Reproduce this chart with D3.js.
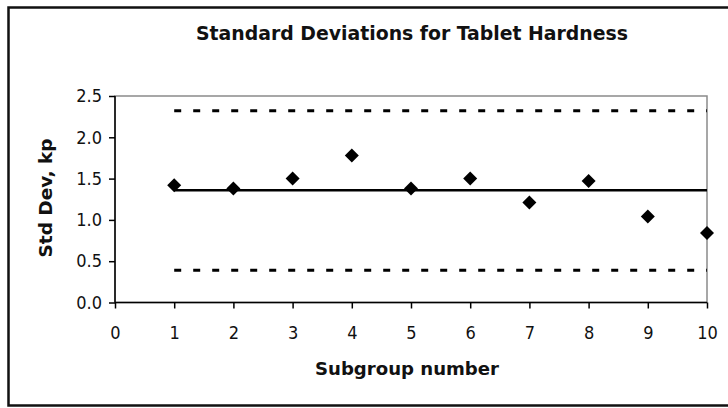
<!DOCTYPE html>
<html>
<head>
<meta charset="utf-8">
<script src="https://cdn.jsdelivr.net/npm/d3@7"></script>
<style>
  body { margin: 0; background: #fff; }
  svg { display: block; font-family: "DejaVu Sans Condensed", "DejaVu Sans", sans-serif; }
</style>
</head>
<body>
<svg width="728" height="408"></svg>
<script>
const TITLE = "Standard Deviations for Tablet Hardness",
  X_LABEL = "Subgroup number",
  Y_LABEL = "Std Dev, kp";

// data
const subgroups = [1, 2, 3, 4, 5, 6, 7, 8, 9, 10];
const stdDevs = [1.42, 1.38, 1.5, 1.78, 1.38, 1.5, 1.21, 1.47, 1.04, 0.84];
const centerLine = 1.36,
  upperLimit = 2.32,
  lowerLimit = 0.39;
const xTicks = [0, 1, 2, 3, 4, 5, 6, 7, 8, 9, 10];
const yTicks = [0, 0.5, 1, 1.5, 2, 2.5];

const margin = { top: 96, right: 21, bottom: 105.5, left: 115 },
  W = 728,
  H = 408,
  width = W - margin.left - margin.right,
  height = H - margin.top - margin.bottom;

var svg = d3.select("svg");

// outer frame (right side runs off the picture)
svg.append("rect")
  .attr("x", 8.5).attr("y", 7.5)
  .attr("width", 730).attr("height", 398)
  .attr("fill", "none")
  .attr("stroke", "#111")
  .attr("stroke-width", 2.5);

var chart = svg.append("g")
  .attr("transform", "translate(" + margin.left + "," + margin.top + ")");

var x = d3.scaleLinear().domain([0, 10]).range([0, width]);
var y = d3.scaleLinear().domain([0, 2.5]).range([height, 0]);

// plot area border
chart.append("rect")
  .attr("x", 0).attr("y", 0)
  .attr("width", width).attr("height", height)
  .attr("fill", "none")
  .attr("stroke", "#8a8a8a")
  .attr("stroke-width", 1.5);

// control limits
[upperLimit, lowerLimit].forEach(v => {
  chart.append("line")
    .attr("x1", x(subgroups[0])).attr("x2", x(subgroups[subgroups.length - 1]))
    .attr("y1", y(v)).attr("y2", y(v))
    .attr("stroke", "#000")
    .attr("stroke-width", 3)
    .attr("stroke-dasharray", "7,12");
});

chart.append("line")
  .attr("x1", x(subgroups[0])).attr("x2", x(subgroups[subgroups.length - 1]))
  .attr("y1", y(centerLine)).attr("y2", y(centerLine))
  .attr("stroke", "#000")
  .attr("stroke-width", 2.5);

// axes
var xAxis = d3.axisBottom(x).tickValues(xTicks).tickSize(6).tickFormat(d3.format("d"));
var yAxis = d3.axisLeft(y).tickValues(yTicks).tickSize(6).tickFormat(d3.format(".1f"));

var gx = chart.append("g")
  .attr("transform", "translate(0," + height + ")")
  .call(xAxis);
gx.select(".domain").attr("stroke", "#000").attr("stroke-width", 1.5).attr("d", "M0,0H" + width);
gx.selectAll(".tick line").attr("stroke", "#000").attr("stroke-width", 1.5);
gx.selectAll(".tick text")
  .attr("y", 24)
  .attr("dy", "0.71em")
  .attr("font-size", 18)
  .attr("font-family", "DejaVu Sans Condensed, DejaVu Sans, sans-serif")
  .attr("fill", "#111");

var gy = chart.append("g").call(yAxis);
gy.select(".domain").attr("stroke", "#000").attr("stroke-width", 1.5).attr("d", "M0," + height + "V0");
gy.selectAll(".tick line").attr("stroke", "#000").attr("stroke-width", 1.5);
gy.selectAll(".tick text")
  .attr("x", -13)
  .attr("font-size", 18)
  .attr("font-family", "DejaVu Sans Condensed, DejaVu Sans, sans-serif")
  .attr("fill", "#111");

// markers
chart.selectAll(".pt")
  .data(subgroups)
  .enter()
  .append("path")
  .attr("class", "pt")
  .attr("d", "M0,-7L7,0L0,7L-7,0Z")
  .attr("transform", (d, i) => "translate(" + x(d) + "," + y(stdDevs[i]) + ")")
  .attr("fill", "#000");

// titles
svg.append("text")
  .attr("x", 412)
  .attr("y", 40)
  .attr("text-anchor", "middle")
  .attr("font-weight", "bold")
  .attr("font-size", 19)
  .attr("textLength", 432)
  .attr("lengthAdjust", "spacingAndGlyphs")
  .attr("fill", "#111")
  .text(TITLE);

svg.append("text")
  .attr("x", 407)
  .attr("y", 375)
  .attr("text-anchor", "middle")
  .attr("font-weight", "bold")
  .attr("font-size", 18)
  .attr("textLength", 184)
  .attr("lengthAdjust", "spacingAndGlyphs")
  .attr("fill", "#111")
  .text(X_LABEL);

svg.append("text")
  .attr("transform", "translate(52,198) rotate(-90)")
  .attr("text-anchor", "middle")
  .attr("font-weight", "bold")
  .attr("font-size", 18)
  .attr("textLength", 119)
  .attr("lengthAdjust", "spacingAndGlyphs")
  .attr("fill", "#111")
  .text(Y_LABEL);
</script>
</body>
</html>
